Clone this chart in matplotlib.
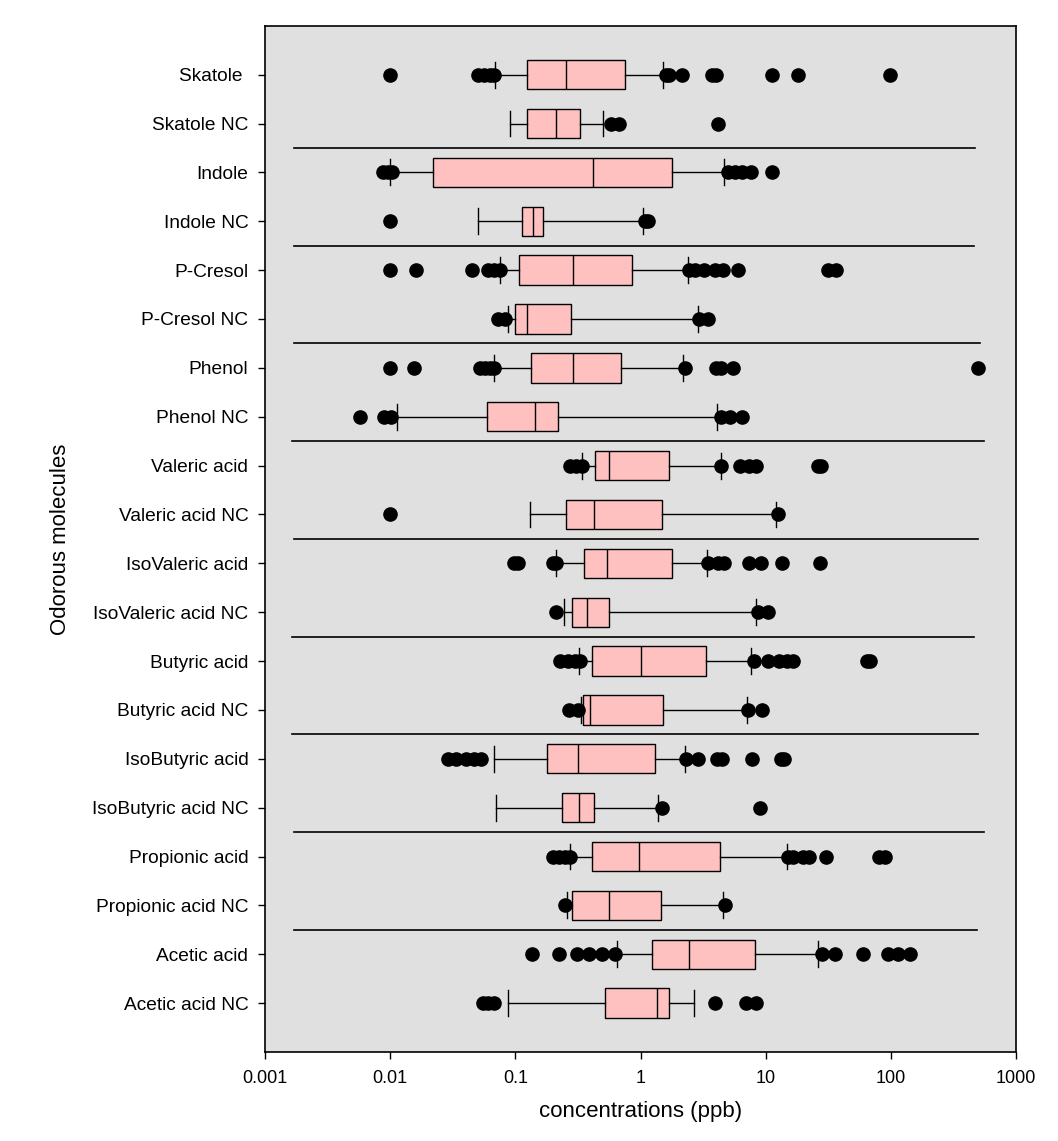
import matplotlib
matplotlib.use("Agg")
import matplotlib.pyplot as plt
import numpy as np

plt.rcParams['font.family'] = ['Liberation Sans', 'DejaVu Sans']

# category labels, top to bottom
labels = ["Skatole ", "Skatole NC", "Indole", "Indole NC", "P-Cresol", "P-Cresol NC",
          "Phenol", "Phenol NC", "Valeric acid", "Valeric acid NC",
          "IsoValeric acid", "IsoValeric acid NC", "Butyric acid", "Butyric acid NC",
          "IsoButyric acid", "IsoButyric acid NC", "Propionic acid", "Propionic acid NC",
          "Acetic acid", "Acetic acid NC"]

# box statistics (ppb)
whislo = [0.069, 0.090, 0.010, 0.050, 0.075, 0.088, 0.068, 0.0114, 0.343, 0.130,
          0.210, 0.246, 0.325, 0.334, 0.068, 0.0706, 0.272, 0.260, 0.646, 0.088]
q1 = [0.123, 0.123, 0.0221, 0.114, 0.107, 0.100, 0.134, 0.0596, 0.436, 0.255,
      0.355, 0.281, 0.406, 0.349, 0.180, 0.238, 0.413, 0.281, 1.23, 0.517]
med = [0.255, 0.213, 0.421, 0.139, 0.287, 0.125, 0.287, 0.144, 0.555, 0.428,
       0.535, 0.371, 1.00, 0.392, 0.319, 0.325, 0.98, 0.555, 2.42, 1.35]
q3 = [0.758, 0.33, 1.80, 0.165, 0.859, 0.279, 0.694, 0.221, 1.68, 1.49,
      1.77, 0.555, 3.31, 1.52, 1.30, 0.428, 4.28, 1.47, 8.15, 1.68]
whishi = [1.52, 0.499, 4.68, 1.05, 2.38, 2.87, 2.17, 4.10, 4.36, 12.1,
          3.37, 8.44, 7.59, 7.06, 2.25, 1.37, 14.7, 4.60, 26.0, 2.69]
outliers = [
    [0.0099, 0.050, 0.056, 0.063, 0.067, 1.6, 1.7, 2.13, 3.71, 3.99, 11.3, 18.2, 99],
    [0.585, 0.669, 4.13],
    [0.0088, 0.0096, 0.0104, 4.98, 5.7, 6.5, 7.6, 11.3],
    [0.010, 1.09, 1.14],
    [0.010, 0.016, 0.045, 0.060, 0.067, 0.075, 2.44, 2.72, 3.19, 3.92, 4.56, 5.96, 31.6, 36.4],
    [0.073, 0.082, 2.92, 3.48],
    [0.010, 0.0155, 0.0526, 0.0576, 0.063, 0.067, 2.27, 3.99, 4.36, 5.45, 499],
    [0.00578, 0.0090, 0.0101, 4.36, 5.2, 6.5],
    [0.274, 0.305, 0.34, 4.43, 6.23, 7.4, 8.3, 26.0, 27.9],
    [0.010, 12.5],
    [0.098, 0.105, 0.200, 0.210, 3.48, 4.17, 4.64, 7.4, 9.1, 13.4, 27.4],
    [0.210, 8.7, 10.4],
    [0.229, 0.262, 0.300, 0.328, 8.1, 10.4, 12.7, 14.8, 16.6, 64.0, 68.0],
    [0.270, 0.319, 7.25, 9.3],
    [0.0289, 0.0337, 0.0403, 0.047, 0.0536, 2.29, 2.87, 4.06, 4.48, 7.8, 13.2, 14.0],
    [1.48, 9.05],
    [0.200, 0.223, 0.250, 0.274, 15.2, 16.6, 19.9, 22.3, 30.1, 81, 90],
    [0.250, 4.72],
    [0.137, 0.223, 0.313, 0.385, 0.49, 0.629, 28.4, 36.0, 59.6, 94.8, 114, 141],
    [0.055, 0.060, 0.067, 3.92, 6.9, 8.4],
]

# horizontal separators between pairs (left end, right end in ppb)
sep_left = [0.0017, 0.0017, 0.0017, 0.00163, 0.0017, 0.00163, 0.00163, 0.0017, 0.0017]
sep_right = [472, 466, 517, 550, 494, 460, 494, 560, 485]

stats = []
for i, lab in enumerate(labels):
    stats.append(dict(label=lab, whislo=whislo[i], q1=q1[i], med=med[i],
                      q3=q3[i], whishi=whishi[i], fliers=outliers[i]))

positions = np.arange(1, len(labels) + 1)

fig = plt.figure(figsize=(10.58, 11.41), dpi=100)
ax = fig.add_axes([0.2505, 0.078, 0.7098, 0.8994])
ax.set_facecolor('#e0e0e0')

ax.bxp(stats, positions=positions, orientation='horizontal', widths=0.6,
       capwidths=0.53, patch_artist=True,
       boxprops=dict(facecolor='#ffc0c0', edgecolor='black', linewidth=1.0),
       medianprops=dict(color='black', linewidth=1.0),
       whiskerprops=dict(color='black', linewidth=1.0),
       capprops=dict(color='black', linewidth=1.0),
       flierprops=dict(marker='o', markerfacecolor='black', markeredgecolor='black',
                       markersize=9.5, linestyle='none'))

for k in range(len(sep_left)):
    y = 2.5 + 2 * k
    ax.plot([sep_left[k], sep_right[k]], [y, y], color='black', linewidth=1.2)

ax.set_xscale('log')
ax.set_xlim(0.001, 1000)
ax.set_ylim(len(labels) + 1, 0)
ax.set_xticks([0.001, 0.01, 0.1, 1, 10, 100, 1000])
ax.set_xticklabels(["0.001", "0.01", "0.1", "1", "10", "100", "1000"])
ax.xaxis.set_minor_locator(matplotlib.ticker.NullLocator())
ax.set_yticks(positions)
ax.set_yticklabels(labels)
ax.tick_params(axis='both', direction='out', length=5, width=1)
ax.tick_params(axis='x', pad=8, labelsize=13)
ax.tick_params(axis='y', pad=7, labelsize=13.8)
for s in ax.spines.values():
    s.set_linewidth(1.2)

ax.set_xlabel("concentrations (ppb)", fontsize=16, labelpad=10)
ax.set_ylabel("Odorous molecules", fontsize=16, labelpad=15)

fig.savefig("out.png", dpi=100)
